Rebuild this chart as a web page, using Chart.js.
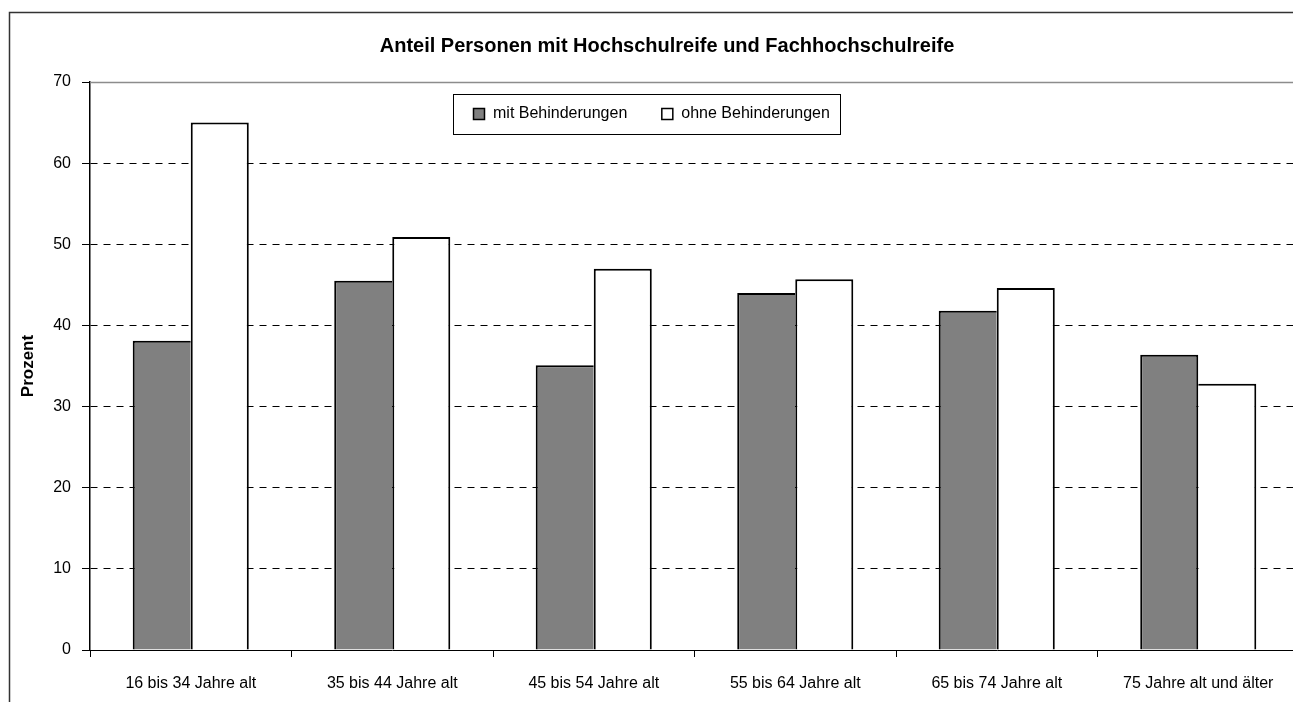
<!DOCTYPE html>
<html>
<head>
<meta charset="utf-8">
<title>Anteil Personen mit Hochschulreife und Fachhochschulreife</title>
<script src="https://cdn.jsdelivr.net/npm/chart.js@4/dist/chart.umd.min.js"></script>
<style>
  html, body { margin: 0; padding: 0; background: #fff; overflow: hidden; }
  #chart { display: block; }
</style>
</head>
<body>
<canvas id="chart" width="1334" height="702"></canvas>
<script>
var categories = ['16 bis 34 Jahre alt', '35 bis 44 Jahre alt', '45 bis 54 Jahre alt',
    '55 bis 64 Jahre alt', '65 bis 74 Jahre alt', '75 Jahre alt und älter'];
var mitBehinderungen = [38.1, 45.5, 35.1, 44.0, 41.8, 36.4];
var ohneBehinderungen = [65.0, 50.9, 47.0, 45.7, 44.6, 32.8];
var seriesNames = ['mit Behinderungen', 'ohne Behinderungen'];
var chartTitle = 'Anteil Personen mit Hochschulreife und Fachhochschulreife';
var yTitle = 'Prozent';

var fontFamily = "'Liberation Sans', Arial, sans-serif";

Chart.defaults.font.family = fontFamily;
Chart.defaults.color = '#000';

// one 2px line between the two bars of a group, drawn by the taller bar
function mitBorder(c) {
    var i = c.dataIndex;
    return { top: 2, left: 2, right: mitBehinderungen[i] > ohneBehinderungen[i] ? 2 : 0, bottom: 0 };
}
function ohneBorder(c) {
    var i = c.dataIndex;
    return { top: 2, left: mitBehinderungen[i] > ohneBehinderungen[i] ? 0 : 2, right: 2, bottom: 0 };
}

// outer frame, plot top border and the boxed legend
var framePlugin = {
    id: 'frame',
    beforeDraw: function(chart) {
        var ctx = chart.ctx;
        ctx.save();
        ctx.fillStyle = '#fff';
        ctx.fillRect(0, 0, chart.width, chart.height);
        ctx.strokeStyle = '#333';
        ctx.lineWidth = 1.5;
        ctx.strokeRect(9.5, 12.5, chart.width + 100, chart.height + 100);
        ctx.restore();
    },
    afterDraw: function(chart) {
        var ctx = chart.ctx;
        var area = chart.chartArea;
        ctx.save();
        ctx.strokeStyle = '#8c8c8c';
        ctx.lineWidth = 1.5;
        ctx.beginPath();
        ctx.moveTo(area.left, area.top + 0.5);
        ctx.lineTo(area.right, area.top + 0.5);
        ctx.stroke();

        // legend
        var bx = 453, by = 94, bw = 387, bh = 40;
        ctx.fillStyle = '#fff';
        ctx.fillRect(bx, by, bw, bh);
        ctx.strokeStyle = '#000';
        ctx.lineWidth = 1;
        ctx.strokeRect(bx + 0.5, by + 0.5, bw, bh);
        ctx.font = '16px ' + fontFamily;
        ctx.textBaseline = 'middle';
        var x = bx + 20;
        var cy = by + bh / 2;
        chart.data.datasets.forEach(function(ds) {
            ctx.fillStyle = ds.backgroundColor;
            ctx.fillRect(x, cy - 6, 12, 12);
            ctx.strokeStyle = '#000';
            ctx.lineWidth = 1.5;
            ctx.strokeRect(x + 0.5, cy - 5.5, 11, 11);
            ctx.fillStyle = '#000';
            ctx.fillText(ds.label, x + 20, cy);
            x += 20 + ctx.measureText(ds.label).width + 34;
        });
        ctx.restore();
    }
};

new Chart(document.getElementById('chart'), {
    type: 'bar',
    data: {
        labels: categories,
        datasets: [{
            label: seriesNames[0],
            data: mitBehinderungen,
            backgroundColor: '#808080',
            borderColor: '#000',
            borderWidth: mitBorder,
            borderSkipped: 'start',
            categoryPercentage: 0.576,
            barPercentage: 1.0
        }, {
            label: seriesNames[1],
            data: ohneBehinderungen,
            backgroundColor: '#ffffff',
            borderColor: '#000',
            borderWidth: ohneBorder,
            borderSkipped: 'start',
            categoryPercentage: 0.576,
            barPercentage: 1.0
        }]
    },
    options: {
        responsive: false,
        animation: false,
        devicePixelRatio: 1,
        layout: { padding: { left: 35, right: 35, top: 0, bottom: 0 } },
        plugins: {
            legend: { display: false },
            tooltip: { enabled: false },
            title: {
                display: true,
                text: chartTitle,
                color: '#000',
                font: { size: 20, weight: 'bold' },
                padding: { top: 34, bottom: 24 }
            }
        },
        scales: {
            x: {
                afterFit: function(scale) { scale.height = 52; },
                grid: {
                    offset: true,
                    drawOnChartArea: false,
                    drawTicks: true,
                    tickLength: 7,
                    tickColor: '#000',
                    tickWidth: 1
                },
                border: { color: '#000', width: 1 },
                ticks: {
                    color: '#000',
                    font: { size: 16 },
                    padding: 17,
                    maxRotation: 0,
                    autoSkip: false
                }
            },
            y: {
                min: 0,
                max: 70,
                afterFit: function(scale) { scale.width = 55; },
                grid: {
                    color: function(c) {
                        if (c.tick && (c.tick.value === 0 || c.tick.value === 70)) return 'rgba(0,0,0,0)';
                        return '#000';
                    },
                    lineWidth: 1,
                    tickLength: 8,
                    tickColor: '#000',
                    tickWidth: 1
                },
                border: { color: '#000', width: 1.5, dash: [7, 6] },
                ticks: {
                    stepSize: 10,
                    color: '#000',
                    font: { size: 16 },
                    padding: 11
                },
                title: {
                    display: true,
                    text: yTitle,
                    color: '#000',
                    font: { size: 17, weight: 'bold' },
                    padding: { top: -17, bottom: 0 }
                }
            }
        }
    },
    plugins: [framePlugin]
});
</script>
</body>
</html>
